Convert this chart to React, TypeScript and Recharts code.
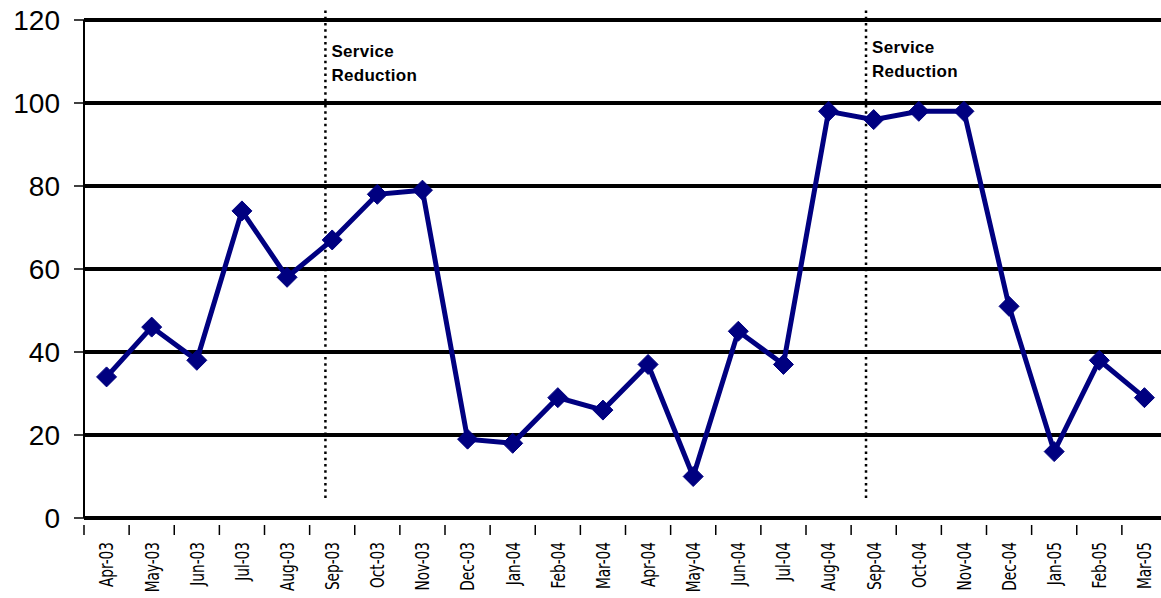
import { CartesianGrid, LineChart, Line, ReferenceLine, XAxis, YAxis } from 'recharts';

const months = [
  'Apr-03', 'May-03', 'Jun-03', 'Jul-03', 'Aug-03', 'Sep-03', 'Oct-03', 'Nov-03',
  'Dec-03', 'Jan-04', 'Feb-04', 'Mar-04', 'Apr-04', 'May-04', 'Jun-04', 'Jul-04',
  'Aug-04', 'Sep-04', 'Oct-04', 'Nov-04', 'Dec-04', 'Jan-05', 'Feb-05', 'Mar-05',
];
const counts = [34, 46, 38, 74, 58, 67, 78, 79, 19, 18, 29, 26, 37, 10, 45, 37, 98, 96, 98, 98, 51, 16, 38, 29];
const yTicks = [0, 20, 40, 60, 80, 100, 120];
// position of each marker on a 0..24 month scale, and its label lines
const reductionAt = [5.35, 17.33];
const reductionText = ['Service', 'Reduction'];

const data = months.map((m, i) => ({ month: m, pos: i + 0.5, value: counts[i] }));

const NAVY = '#000080';

function Diamond({ cx, cy }: any) {
  if (cx == null || cy == null) return null;
  const r = 10;
  return (
    <polygon
      points={`${cx},${cy - r} ${cx + r},${cy} ${cx},${cy + r} ${cx - r},${cy}`}
      fill={NAVY}
      stroke={NAVY}
    />
  );
}

function MonthTick({ x, y, payload, index }: any) {
  const half = payload.offset ?? 0;
  const last = index === months.length - 1;
  return (
    <g>
      <line x1={x - half} y1={y - 1} x2={x - half} y2={y + 9} stroke="#000" strokeWidth={1.5} />
      {last && <line x1={x + half} y1={y - 1} x2={x + half} y2={y + 9} stroke="#000" strokeWidth={1.5} />}
      <text
        x={0}
        y={0}
        transform={`translate(${x}, ${y + 16}) rotate(-90) scale(0.8, 1)`}
        textAnchor="end"
        dy="0.36em"
        fontSize={19}
        fontFamily="'DejaVu Sans Condensed', 'Liberation Sans Narrow', sans-serif"
        fill="#000"
      >
        {payload.value}
      </text>
    </g>
  );
}

function ReductionLabel(dy: number) {
  return (props: any) => {
    const vb = props.viewBox || {};
    const x = (vb.x ?? 0) + 6;
    const y = vb.y ?? 0;
    return (
      <text
        fontFamily="'Liberation Sans', Arial, sans-serif"
        fontWeight="bold"
        fontSize={17}
        letterSpacing={0.3}
        fill="#000"
      >
        {reductionText.map((t, i) => (
          <tspan key={t} x={x} y={y + dy + i * 24}>
            {t}
          </tspan>
        ))}
      </text>
    );
  };
}

export default function App() {
  return (
    <div style={{ position: 'absolute', left: 0, top: 0, width: 1161, height: 598, overflow: 'hidden', background: '#fff' }}>
      <LineChart width={1180} height={598} data={data} margin={{ top: 20, right: 13, bottom: 0, left: 0 }}>
        <CartesianGrid vertical={false} stroke="#000" strokeWidth={4} />
        <XAxis
          dataKey="month"
          scale="band"
          interval={0}
          height={80}
          tickLine={false}
          axisLine={{ stroke: '#000', strokeWidth: 3 }}
          tick={<MonthTick />}
        />
        <XAxis xAxisId="n" dataKey="pos" type="number" domain={[0, 24]} allowDataOverflow hide />
        <YAxis
          domain={[0, 120]}
          ticks={yTicks}
          width={84}
          tickSize={10}
          tickMargin={14}
          axisLine={{ stroke: '#000', strokeWidth: 2 }}
          tickLine={{ stroke: '#000', strokeWidth: 1.5 }}
          tick={{ fontSize: 28, fill: '#000', fontFamily: "'Liberation Sans', Arial, sans-serif" }}
        />
        {reductionAt.map((p, i) => (
          <ReferenceLine
            key={p}
            xAxisId="n"
            segment={[{ x: p, y: 122.3 }, { x: p, y: 4.8 }]}
            ifOverflow="visible"
            stroke="#000"
            strokeWidth={2.5}
            strokeDasharray="2.5 3.8"
            label={ReductionLabel(i === 0 ? 47 : 43)}
          />
        ))}
        <Line
          type="linear"
          dataKey="value"
          stroke={NAVY}
          strokeWidth={5}
          dot={<Diamond />}
          activeDot={false}
          isAnimationActive={false}
        />
      </LineChart>
    </div>
  );
}
